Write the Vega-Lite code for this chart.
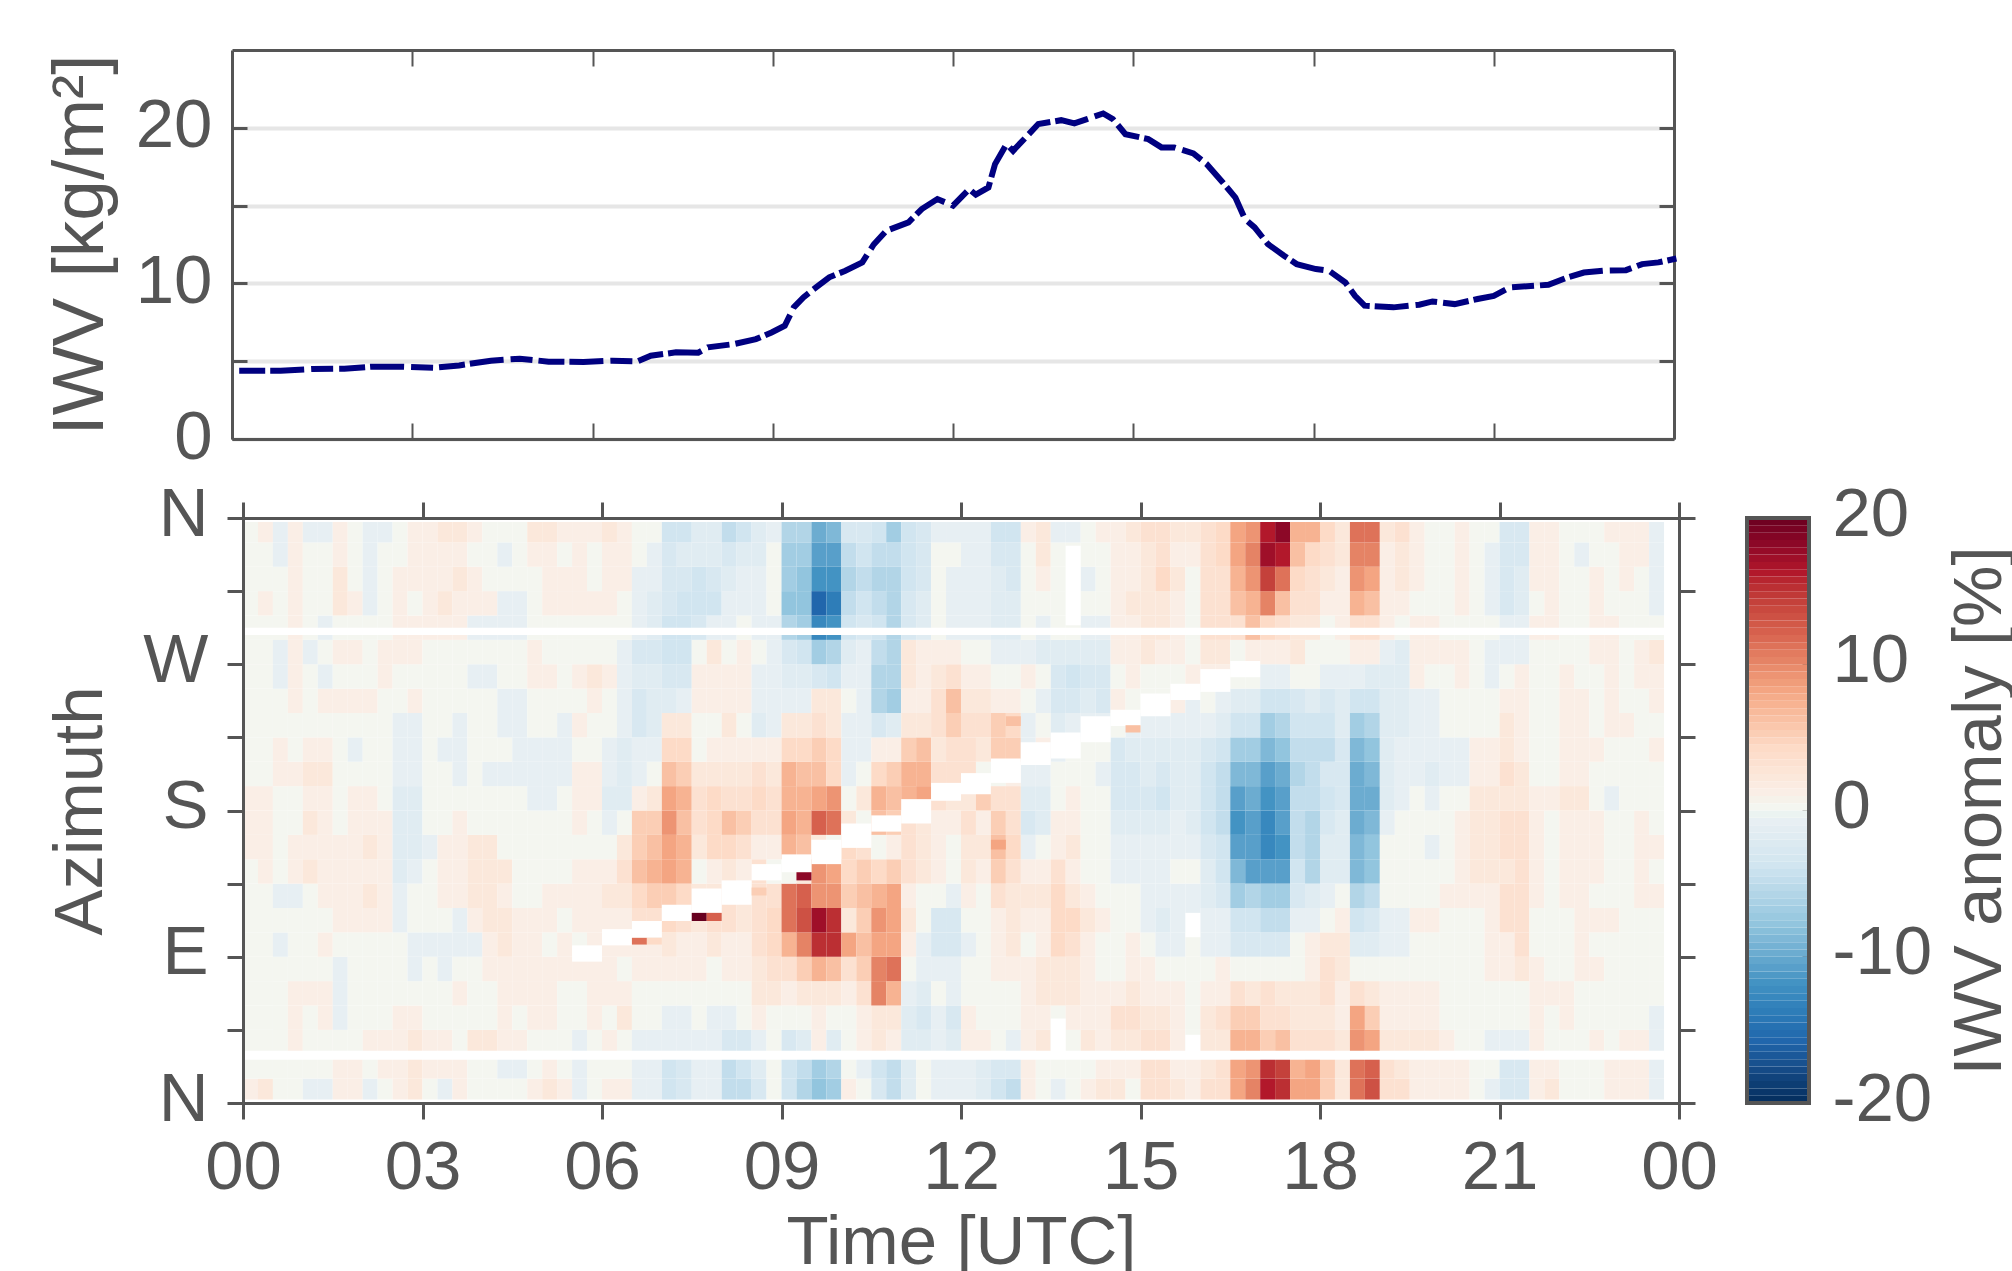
{"$schema":"https://vega.github.io/schema/vega-lite/v6.json","background":"white","padding":{"left":44,"top":49,"right":0,"bottom":0},
"config":{"font":"Liberation Sans","view":{"stroke":null},"axis":{"labelFont":"Liberation Sans","titleFont":"Liberation Sans","labelFontSize":69,"titleFontSize":69,"labelColor":"#555555","titleColor":"#555555","titleFontWeight":"normal","domainColor":"#555555","tickColor":"#555555","domainWidth":3,"tickWidth":3,"grid":false,"labelOverlap":false,"labelFlush":false}},
"datasets":{"heat":[
{"t":0,"v":[1,0,0,0,0,0,0,0,0,0,1,1,1,0,0,0,0,0,0,0,0,0,0,0]},
{"t":0.25,"v":[2,0,0,0,0,0,0,0,0,1,1,1,1,0,0,0,0,0,0,0,1,0,0,1]},
{"t":0.5,"v":[0,0,0,0,0,0,-1,0,-1,0,0,0,0,1,1,0,0,-1,-1,0,0,0,-1,-1]},
{"t":0.75,"v":[0,0,1,1,1,0,0,0,-1,1,1,0,0,1,0,0,1,1,1,1,1,1,1,1]},
{"t":1,"v":[-1,0,0,0,1,0,0,0,0,2,1,2,1,2,1,0,0,0,-1,0,0,0,0,-1]},
{"t":1.25,"v":[-1,0,0,1,1,0,1,0,1,1,1,1,1,2,1,0,1,-1,0,-1,0,0,0,-1]},
{"t":1.5,"v":[1,1,0,-1,-1,-1,0,1,1,1,1,0,0,0,0,0,1,0,1,0,2,2,1,1]},
{"t":1.75,"v":[1,1,0,0,0,0,0,1,1,1,1,1,1,0,-1,0,1,0,1,0,1,0,0,0]},
{"t":2,"v":[-1,0,1,0,0,0,0,1,2,1,2,1,1,0,0,0,1,0,0,0,-1,-1,-1,-1]},
{"t":2.25,"v":[0,1,1,0,0,0,0,1,1,1,1,1,0,0,0,0,0,1,1,0,0,0,0,-1]},
{"t":2.5,"v":[1,1,1,1,0,0,0,-1,-1,-2,-2,-2,-2,-1,-1,-1,0,0,1,1,1,1,0,0]},
{"t":2.75,"v":[2,2,2,1,0,-1,-1,0,0,-1,-2,-2,-2,-1,-1,-1,1,0,1,1,0,1,1,1]},
{"t":3,"v":[0,1,1,0,0,0,-1,0,0,0,-1,0,0,0,0,0,0,0,0,1,1,1,1,1]},
{"t":3.25,"v":[-1,1,1,0,0,-1,-1,0,1,1,1,0,0,0,-1,0,0,0,0,1,2,1,1,2]},
{"t":3.5,"v":[1,1,0,0,1,0,-1,-1,1,1,1,1,0,-1,-1,-1,0,0,0,1,1,2,1,2]},
{"t":3.75,"v":[0,0,2,0,0,0,-1,1,2,2,2,0,0,0,0,0,0,-1,0,-1,1,1,0,1]},
{"t":4,"v":[0,0,2,0,0,1,1,2,2,2,2,0,0,-1,0,0,0,-1,0,-1,1,0,0,0]},
{"t":4.25,"v":[0,-1,1,1,1,1,2,2,1,2,0,0,0,-1,0,-1,-1,0,0,-1,-1,0,-1,0]},
{"t":4.5,"v":[0,-1,1,0,1,1,1,1,0,0,0,0,0,-1,-1,-1,-1,0,0,-1,-1,0,0,0]},
{"t":4.75,"v":[1,0,0,1,1,1,1,1,0,0,0,0,-1,-1,-1,0,0,1,1,0,0,0,1,2]},
{"t":5,"v":[2,1,0,1,1,1,0,1,1,0,0,0,-1,-1,-1,0,0,1,0,0,1,1,1,2]},
{"t":5.25,"v":[1,0,0,0,0,1,1,0,1,0,0,0,0,-1,-1,-1,0,0,0,0,1,1,0,1]},
{"t":5.5,"v":[-1,-1,-1,0,0,1,0,1,1,1,0,1,1,1,0,1,0,1,0,0,1,1,1,1]},
{"t":5.75,"v":[0,0,0,1,1,1,1,1,1,1,0,0,1,1,0,0,1,2,0,0,1,0,0,1]},
{"t":6,"v":[1,0,1,0,1,1,1,1,2,1,0,-1,-2,-1,-1,0,0,1,0,0,1,1,1,2]},
{"t":6.25,"v":[1,0,0,2,1,0,1,1,2,3,2,0,-2,-2,-2,-1,-1,-1,-1,0,0,1,1,1]},
{"t":6.5,"v":[-1,-1,-1,0,0,1,1,3,4,6,5,5,1,-1,-1,-3,-3,-2,-3,-1,-1,-1,0,0]},
{"t":6.75,"v":[-1,-1,-1,0,0,1,1,3,5,7,6,5,2,0,-1,-2,-2,-2,-3,-2,-2,-1,-1,0]},
{"t":7,"v":[-4,-4,-1,-1,0,1,2,4,5,8,8,9,8,6,4,2,-2,-3,-4,-4,-3,-3,-3,-4]},
{"t":7.25,"v":[-3,-3,-1,-1,0,1,1,3,4,7,7,6,7,5,4,2,-1,-3,-4,-4,-4,-3,-2,-4]},
{"t":7.5,"v":[-1,-1,-1,0,0,1,1,2,2,0,2,3,3,2,0,0,1,1,0,-3,-4,-4,-2,-2]},
{"t":7.75,"v":[-1,-1,-1,-1,0,0,2,3,2,1,4,4,4,2,1,0,1,1,2,-1,-4,-3,-2,-2]},
{"t":8,"v":[-5,-5,-3,-1,0,1,1,3,3,2,4,6,3,2,1,2,1,1,0,-1,-1,-2,-3,-5]},
{"t":8.25,"v":[-5,-4,-3,0,0,1,1,2,2,1,3,5,3,2,1,0,1,1,1,0,-1,-1,-2,-4]},
{"t":8.5,"v":[-3,-2,-1,1,2,2,3,3,3,3,1,3,4,3,1,-2,-1,-1,0,-1,-1,-1,-2,-2]},
{"t":8.75,"v":[0,0,0,0,2,3,4,4,3,0,1,3,3,2,1,-1,-1,-1,-1,-1,0,0,0,-1]},
{"t":9,"v":[-4,-4,-3,0,1,3,7,11,11,0,7,8,7,7,4,2,-1,-2,-3,-6,-8,-7,-7,-6]},
{"t":9.25,"v":[-6,-5,-2,0,2,5,10,13,12,2,6,7,7,6,4,2,-1,-2,-4,-7,-8,-8,-7,-6]},
{"t":9.5,"v":[-8,-7,1,1,2,7,15,17,9,9,2,12,8,6,5,3,2,-3,-7,-13,-16,-12,-11,-10]},
{"t":9.75,"v":[-7,-6,-2,0,2,6,15,15,9,8,0,11,9,4,4,2,2,-4,-6,-12,-14,-12,-11,-9]},
{"t":10,"v":[1,0,0,0,1,3,8,2,5,4,4,2,0,-1,-1,-1,0,-1,-2,-4,-5,-6,-5,-3]},
{"t":10.25,"v":[0,-1,1,1,3,5,6,5,6,5,3,0,2,0,-1,-1,-1,-1,-1,-3,-4,-5,-4,-3]},
{"t":10.5,"v":[-3,-4,2,2,10,10,8,9,7,4,0,6,7,4,1,-3,-6,-6,-5,-4,-5,-6,-5,-4]},
{"t":10.75,"v":[-5,-5,1,2,7,11,8,8,8,5,1,5,6,5,1,-2,-7,-6,-6,-6,-6,-6,-5,-7]},
{"t":11,"v":[-2,-2,-2,-2,-1,0,1,2,1,3,3,3,7,7,5,2,1,2,2,-3,-3,-4,-4,-4]},
{"t":11.25,"v":[0,0,-2,-3,-2,-1,-1,0,0,2,2,2,8,7,6,2,1,1,1,-2,-2,-3,-3,-3]},
{"t":11.5,"v":[-1,-1,-1,-1,0,-1,-3,-3,0,1,1,1,3,3,2,3,3,2,1,0,0,0,0,-1]},
{"t":11.75,"v":[-1,-1,-2,-3,-1,-1,-3,-3,-1,0,0,1,2,3,3,5,6,3,1,-1,-1,-1,0,-1]},
{"t":12,"v":[-1,-1,1,1,0,0,-1,0,1,2,2,3,2,3,3,3,2,1,0,-1,-1,-1,-1,-1]},
{"t":12.25,"v":[-2,-2,1,0,0,0,0,0,0,1,2,1,5,0,2,3,2,1,0,-1,-1,-1,-1,-1]},
{"t":12.5,"v":[-4,-3,0,0,0,1,1,1,3,5,6,5,3,0,5,5,1,0,-1,-2,-2,-2,-3,-4]},
{"t":12.75,"v":[-5,-3,-1,0,0,1,2,2,2,3,4,3,3,1,5,4,1,0,-1,-2,-2,-3,-3,-4]},
{"t":13,"v":[1,1,1,1,1,1,0,1,2,1,-1,-3,-2,-1,-1,-1,0,1,-1,0,0,0,0,1]},
{"t":13.25,"v":[0,0,2,1,2,2,1,1,2,1,0,-2,-2,-1,1,0,-1,0,-2,-1,0,1,2,2]},
{"t":13.5,"v":[-1,0,0,0,2,2,4,4,4,3,1,1,0,0,-1,-2,-3,-3,-2,0,0,0,0,-1]},
{"t":13.75,"v":[0,0,0,1,2,2,3,4,2,1,2,1,1,0,0,-1,-3,-4,-2,0,0,0,0,-1]},
{"t":14,"v":[1,0,2,1,1,1,1,2,1,0,0,0,0,0,0,-1,-2,-3,-2,-1,0,-1,0,0]},
{"t":14.25,"v":[2,1,1,1,1,0,0,1,0,0,0,0,0,-1,0,-1,-3,-3,-2,-1,0,0,0,1]},
{"t":14.5,"v":[2,1,2,3,1,0,0,0,0,-1,-1,-2,-3,-3,-3,0,1,0,1,1,1,1,1,1]},
{"t":14.75,"v":[0,1,2,3,2,1,1,0,0,-1,-1,-2,-3,-3,-2,-1,0,1,1,1,2,1,1,2]},
{"t":15,"v":[3,3,3,2,1,1,0,-1,-1,-1,-1,-2,-3,-2,-2,-1,0,0,2,2,2,2,2,3]},
{"t":15.25,"v":[3,3,3,2,1,0,-1,-2,-1,-1,-1,-2,-4,-3,-2,-1,0,0,1,2,2,4,3,3]},
{"t":15.5,"v":[2,1,1,1,1,0,-1,-1,-1,0,-1,-1,-2,-2,-2,-1,1,0,1,1,1,2,1,2]},
{"t":15.75,"v":[1,1,0,0,0,0,0,-1,-1,0,-1,-2,-2,-2,-2,-1,-1,1,0,0,0,0,1,2]},
{"t":16,"v":[3,2,2,2,1,0,-1,-1,-2,-2,-3,-4,-4,-4,-3,-1,0,1,2,3,3,3,3,3]},
{"t":16.25,"v":[3,3,2,3,1,1,-1,-1,-3,-4,-4,-5,-5,-5,-4,-2,-1,1,2,3,3,3,4,4]},
{"t":16.5,"v":[8,8,7,5,3,0,-3,-4,-7,-9,-11,-12,-11,-9,-7,-4,-2,0,0,3,6,7,8,8]},
{"t":16.75,"v":[10,9,7,5,2,0,-3,-4,-6,-11,-11,-11,-10,-9,-7,-4,-2,0,1,6,7,9,10,9]},
{"t":17,"v":[16,15,5,3,3,0,-3,-5,-7,-11,-13,-13,-12,-11,-9,-7,-4,-1,1,4,10,14,17,16]},
{"t":17.25,"v":[15,14,6,3,2,0,-3,-5,-7,-11,-12,-11,-11,-10,-8,-6,-4,-1,1,3,6,11,16,18]},
{"t":17.5,"v":[8,7,3,2,2,0,0,-1,-3,-4,-5,-5,-5,-6,-5,-4,-3,0,2,2,3,4,6,7]},
{"t":17.75,"v":[8,8,3,2,2,1,1,-1,-2,-6,-6,-6,-5,-5,-5,-4,-2,0,0,2,3,3,4,7]},
{"t":18,"v":[5,5,3,2,3,3,2,0,-1,-2,-2,-3,-4,-3,-5,-4,-3,-1,0,0,1,2,3,4]},
{"t":18.25,"v":[2,2,2,1,1,2,2,1,0,-2,-2,-2,-3,-3,-3,-2,-2,-1,0,1,1,1,2,2]},
{"t":18.5,"v":[11,11,9,8,3,0,-2,-4,-6,-9,-9,-10,-10,-10,-9,-7,-4,-1,1,3,7,9,10,11]},
{"t":18.75,"v":[13,12,8,5,2,0,-2,-3,-5,-8,-8,-9,-10,-9,-8,-6,-4,-2,1,3,6,8,10,11]},
{"t":19,"v":[3,3,2,1,1,0,-1,-1,0,0,0,-1,-2,-2,-2,-2,-2,-2,-1,1,1,1,1,2]},
{"t":19.25,"v":[3,2,2,1,1,0,-1,-1,0,0,0,0,-1,-1,-1,-2,-2,-2,-2,0,1,2,2,3]},
{"t":19.5,"v":[1,1,2,1,1,0,0,1,0,0,0,0,0,-1,-1,-1,-1,1,1,1,0,1,1,1]},
{"t":19.75,"v":[1,1,2,1,1,0,0,1,0,0,-1,0,-1,-2,-1,-1,-1,0,1,1,0,0,0,0]},
{"t":20,"v":[1,1,1,0,0,0,0,0,1,0,0,0,0,-1,-1,0,0,0,1,0,0,0,0,0]},
{"t":20.25,"v":[1,1,0,0,0,0,0,0,1,1,1,1,0,-1,-1,0,0,1,1,0,1,1,1,1]},
{"t":20.5,"v":[0,0,0,0,0,0,0,0,1,2,2,2,2,1,1,0,0,0,0,0,0,0,0,0]},
{"t":20.75,"v":[-1,0,-1,0,0,1,1,1,1,2,2,2,2,1,1,0,0,-1,-1,0,-1,-1,-1,0]},
{"t":21,"v":[-3,-3,-1,0,0,1,1,3,3,2,3,3,2,3,2,2,1,0,-1,-1,-3,-3,-3,-3]},
{"t":21.25,"v":[-3,-3,-1,0,0,2,3,3,3,3,3,3,2,2,1,1,1,1,-1,-1,-2,-2,-3,-3]},
{"t":21.5,"v":[1,1,1,1,1,1,0,0,1,1,1,1,1,0,0,0,0,0,0,1,0,1,1,1]},
{"t":21.75,"v":[2,1,0,0,1,0,0,0,0,0,0,0,1,0,0,0,0,0,0,1,1,1,1,1]},
{"t":22,"v":[0,0,0,1,1,0,0,0,1,1,1,1,2,1,1,1,1,1,0,0,0,0,0,0]},
{"t":22.25,"v":[0,0,0,0,0,1,1,1,1,1,1,1,2,1,1,1,1,0,0,0,0,0,-1,0]},
{"t":22.5,"v":[0,0,1,0,0,1,0,1,0,1,1,1,0,0,1,0,0,0,1,1,1,1,0,0]},
{"t":22.75,"v":[1,1,0,0,0,0,0,1,0,0,0,0,-1,0,0,1,1,1,1,1,0,0,0,1]},
{"t":23,"v":[1,1,1,0,0,0,0,0,0,0,0,0,0,0,0,1,0,0,0,0,0,1,1,1]},
{"t":23.25,"v":[1,1,1,0,0,0,0,0,1,1,1,1,0,0,0,0,0,1,1,0,0,0,1,1]},
{"t":23.5,"v":[-1,-1,-1,-1,0,0,0,0,1,0,1,0,0,0,1,0,1,1,2,0,-1,-1,-1,-1]}
],
"gaps":[{"t":0,"t2":23.75,"a":288,"a2":292.5},{"t":0,"t2":23.75,"a":26.6,"a2":32.2},{"t":0,"t2":23.75,"a":0,"a2":2.2},{"t":0,"t2":23.75,"a":357.5,"a2":360},
{"t":5.5,"t2":6,"a":87,"a2":97},{"t":6,"t2":6.5,"a":97,"a2":107},{"t":6.5,"t2":7,"a":102,"a2":112},{"t":7,"t2":7.5,"a":112,"a2":122},{"t":7.5,"t2":8,"a":117,"a2":132},{"t":8,"t2":8.5,"a":122,"a2":137},{"t":8.5,"t2":9,"a":137,"a2":147},{"t":9,"t2":9.5,"a":142,"a2":153},{"t":9.5,"t2":10,"a":147,"a2":162},{"t":10,"t2":10.5,"a":157,"a2":172},{"t":10.5,"t2":11,"a":167,"a2":177},{"t":11,"t2":11.5,"a":172,"a2":187},{"t":11.5,"t2":12,"a":186,"a2":197},{"t":12,"t2":12.5,"a":190,"a2":203},{"t":12.5,"t2":13,"a":197,"a2":212},{"t":13,"t2":13.5,"a":208,"a2":222},{"t":13.5,"t2":14,"a":212,"a2":228},{"t":14,"t2":14.5,"a":222,"a2":238},{"t":14.5,"t2":15,"a":232,"a2":242},{"t":15,"t2":15.5,"a":238,"a2":252},{"t":15.5,"t2":16,"a":248,"a2":258},{"t":16,"t2":16.5,"a":253,"a2":267},{"t":16.5,"t2":17,"a":262,"a2":272},
{"t":13.75,"t2":14,"a":294,"a2":343},{"t":15.75,"t2":16,"a":102,"a2":117},{"t":13.5,"t2":13.75,"a":32,"a2":52},{"t":15.75,"t2":16,"a":32,"a2":42}],
"spots":[{"t":7.5,"a":112,"a2":117,"v":20},{"t":7.75,"a":112,"a2":117,"v":12},{"t":6.5,"a":97.5,"a2":101.6,"v":11},{"t":6.75,"a":97.5,"a2":101.6,"v":4},{"t":9.25,"a":137,"a2":142,"v":18},{"t":8.5,"a":127.7,"a2":132.6,"v":5},{"t":14.75,"a":228,"a2":232.5,"v":6},{"t":12.75,"a":232,"a2":238,"v":6},{"t":12.5,"a":156,"a2":162,"v":8}],
"iwv":[{"t":0.12,"v":4.39},{"t":0.81,"v":4.39},{"t":1.34,"v":4.5},{"t":1.87,"v":4.52},{"t":2.35,"v":4.65},{"t":2.82,"v":4.65},{"t":3.35,"v":4.58},{"t":3.78,"v":4.73},{"t":4.31,"v":5.03},{"t":4.79,"v":5.16},{"t":5.27,"v":4.97},{"t":5.85,"v":4.95},{"t":6.33,"v":5.03},{"t":6.75,"v":4.99},{"t":6.97,"v":5.35},{"t":7.39,"v":5.57},{"t":7.76,"v":5.55},{"t":7.92,"v":5.89},{"t":8.35,"v":6.1},{"t":8.72,"v":6.42},{"t":8.98,"v":6.85},{"t":9.2,"v":7.28},{"t":9.35,"v":8.46},{"t":9.51,"v":9.1},{"t":9.72,"v":9.74},{"t":9.94,"v":10.39},{"t":10.2,"v":10.8},{"t":10.49,"v":11.35},{"t":10.68,"v":12.5},{"t":10.89,"v":13.38},{"t":11.26,"v":13.92},{"t":11.48,"v":14.78},{"t":11.74,"v":15.42},{"t":12,"v":15},{"t":12.27,"v":16.06},{"t":12.38,"v":15.7},{"t":12.59,"v":16.17},{"t":12.7,"v":17.67},{"t":12.89,"v":18.95},{"t":13,"v":18.52},{"t":13.21,"v":19.38},{"t":13.42,"v":20.24},{"t":13.8,"v":20.49},{"t":14.02,"v":20.28},{"t":14.23,"v":20.56},{"t":14.5,"v":20.92},{"t":14.66,"v":20.56},{"t":14.87,"v":19.59},{"t":15.25,"v":19.27},{"t":15.47,"v":18.74},{"t":15.68,"v":18.74},{"t":16,"v":18.35},{"t":16.22,"v":17.67},{"t":16.49,"v":16.49},{"t":16.7,"v":15.52},{"t":16.86,"v":14.13},{"t":17.02,"v":13.6},{"t":17.24,"v":12.53},{"t":17.51,"v":11.78},{"t":17.72,"v":11.24},{"t":18.04,"v":10.92},{"t":18.26,"v":10.81},{"t":18.53,"v":10.06},{"t":18.69,"v":9.2},{"t":18.85,"v":8.57},{"t":19.33,"v":8.46},{"t":19.76,"v":8.63},{"t":19.98,"v":8.84},{"t":20.35,"v":8.67},{"t":20.73,"v":9},{"t":21,"v":9.2},{"t":21.27,"v":9.74},{"t":21.91,"v":9.91},{"t":22.23,"v":10.39},{"t":22.5,"v":10.7},{"t":22.82,"v":10.81},{"t":23.2,"v":10.85},{"t":23.47,"v":11.24},{"t":23.74,"v":11.35},{"t":24.04,"v":11.6}],
"frame":[{"a":-20,"b":20}],
"bar":[{"v":[-20,-19.5,-19,-18.5,-18,-17.5,-17,-16.5,-16,-15.5,-15,-14.5,-14,-13.5,-13,-12.5,-12,-11.5,-11,-10.5,-10,-9.5,-9,-8.5,-8,-7.5,-7,-6.5,-6,-5.5,-5,-4.5,-4,-3.5,-3,-2.5,-2,-1.5,-1,-0.5,0,0.5,1,1.5,2,2.5,3,3.5,4,4.5,5,5.5,6,6.5,7,7.5,8,8.5,9,9.5,10,10.5,11,11.5,12,12.5,13,13.5,14,14.5,15,15.5,16,16.5,17,17.5,18,18.5,19,19.5]}]},
"vconcat":[
{"width":1442,"height":389,"layer":[
{"data":{"name":"iwv"},"mark":{"type":"line","color":"#000080","strokeWidth":6,"strokeDash":[26,5,34,7,22,6],"clip":false},"encoding":{"x":{"field":"t","type":"quantitative","title":null,"scale":{"domain":[0,24],"nice":false},"axis":{"orient":"bottom","values":[0,3,6,9,12,15,18,21,24],"labels":false,"tickSize":-16,"tickWidth":2}},"y":{"field":"v","type":"quantitative","title":"IWV [kg/m²]","scale":{"domain":[0,25],"nice":false},"axis":{"orient":"left","values":[0,5,10,15,20],"grid":true,"gridColor":"#e6e6e6","gridWidth":4,"tickSize":-15,"labelPadding":35,"titlePadding":18,"titleFontSize":73,"labelOffset":-2,"labelExpr":"datum.value%10==0?''+datum.value:''"}}}},
{"data":{"name":"iwv"},"mark":{"type":"line","opacity":0},"encoding":{"x":{"field":"t","type":"quantitative","title":null,"scale":{"domain":[0,24],"nice":false},"axis":{"orient":"top","values":[3,6,9,12,15,18,21],"labels":false,"tickSize":-16,"tickWidth":2,"title":null}},"y":{"field":"v","type":"quantitative","title":null,"scale":{"domain":[0,25],"nice":false},"axis":{"orient":"right","values":[5,10,15,20],"labels":false,"tickSize":-15}}}}
],"resolve":{"axis":{"x":"independent","y":"independent"}}},
{"hconcat":[
{"width":1,"height":1,"mark":{"type":"point","opacity":0},"encoding":{}},
{"hconcat":[
{"width":1436,"height":585,"layer":[
{"data":{"name":"heat"},"transform":[{"flatten":["v"]},{"window":[{"op":"row_number","as":"r"}],"groupby":["t"]},{"calculate":"(datum.r-1)*15","as":"a"},{"calculate":"datum.a+15","as":"a2"},{"calculate":"datum.t+0.25","as":"t2"}],"mark":{"type":"rect"},"encoding":{"x":{"field":"t","type":"quantitative","title":"Time [UTC]","scale":{"domain":[0,24],"nice":false},"axis":{"orient":"bottom","values":[0,3,6,9,12,15,18,21,24],"tickSize":16,"labelPadding":14,"titlePadding":6,"zindex":1,"labelExpr":"(datum.value%24<10?'0':'')+datum.value%24"}},"x2":{"field":"t2"},"y":{"field":"a","type":"quantitative","title":"Azimuth","scale":{"domain":[0,360],"nice":false},"axis":{"orient":"left","values":[0,45,90,135,180,225,270,315,360],"tickSize":16,"labelPadding":19,"titlePadding":27,"labelOffset":-4,"zindex":1,"labelExpr":"{'0':'N','90':'E','180':'S','270':'W','360':'N'}[datum.value]||''"}},"y2":{"field":"a2"},"color":{"field":"v","type":"quantitative","legend":null,"scale":{"domain":[-20,-16,-12,-8,-4,-1,0,1,4,8,12,16,20],"range":["#053061","#2166ac","#4393c3","#92c5de","#d1e5f0","#e7eff3","#f4f6f0","#faeee6","#fddbc7","#f4a582","#d6604d","#b2182b","#67001f"]}}}},
{"data":{"name":"gaps"},"mark":{"type":"rect","color":"white"},"encoding":{"x":{"field":"t","type":"quantitative","title":null,"scale":{"domain":[0,24],"nice":false},"axis":{"orient":"top","values":[0,3,6,9,12,15,18,21,24],"labels":false,"tickSize":16,"zindex":1}},"x2":{"field":"t2"},"y":{"field":"a","type":"quantitative","title":null,"scale":{"domain":[0,360],"nice":false},"axis":{"orient":"right","values":[0,45,90,135,180,225,270,315,360],"labels":false,"tickSize":16,"zindex":1}},"y2":{"field":"a2"}}},
{"data":{"name":"spots"},"transform":[{"calculate":"datum.t+0.25","as":"t2"}],"mark":{"type":"rect"},"encoding":{"x":{"field":"t","type":"quantitative","title":null,"scale":{"domain":[0,24],"nice":false},"axis":null},"x2":{"field":"t2"},"y":{"field":"a","type":"quantitative","title":null,"scale":{"domain":[0,360],"nice":false},"axis":null},"y2":{"field":"a2"},"color":{"field":"v","type":"quantitative","legend":null}}}
],"resolve":{"axis":{"x":"independent","y":"independent"}}},
{"width":62,"height":585,"layer":[
{"data":{"name":"bar"},"transform":[{"flatten":["v"]},{"calculate":"datum.v+0.5","as":"v2"}],"mark":{"type":"rect"},"encoding":{"y":{"field":"v","type":"quantitative","scale":{"domain":[-20,20],"nice":false},"title":"IWV anomaly [%]","axis":{"orient":"right","values":[-20,-10,0,10,20],"tickSize":-7,"labelPadding":30,"titlePadding":14,"titleAngle":270,"titleBaseline":"top","labelOffset":-4,"labelExpr":"''+datum.value"}},"y2":{"field":"v2"},"color":{"field":"v","type":"quantitative","legend":null,"scale":{"domain":[-20,-16,-12,-8,-4,-1,0,1,4,8,12,16,20],"range":["#053061","#2166ac","#4393c3","#92c5de","#d1e5f0","#e7eff3","#f4f6f0","#faeee6","#fddbc7","#f4a582","#d6604d","#b2182b","#67001f"]}}}},
{"data":{"name":"frame"},"mark":{"type":"rect","fillOpacity":0,"stroke":"#555555","strokeWidth":4},"encoding":{"y":{"field":"a","type":"quantitative","scale":{"domain":[-20,20],"nice":false}},"y2":{"field":"b"}}}
]}
],"spacing":68,"bounds":"flush"}
],"spacing":10,"bounds":"flush"}
],"spacing":79,"bounds":"flush"}
